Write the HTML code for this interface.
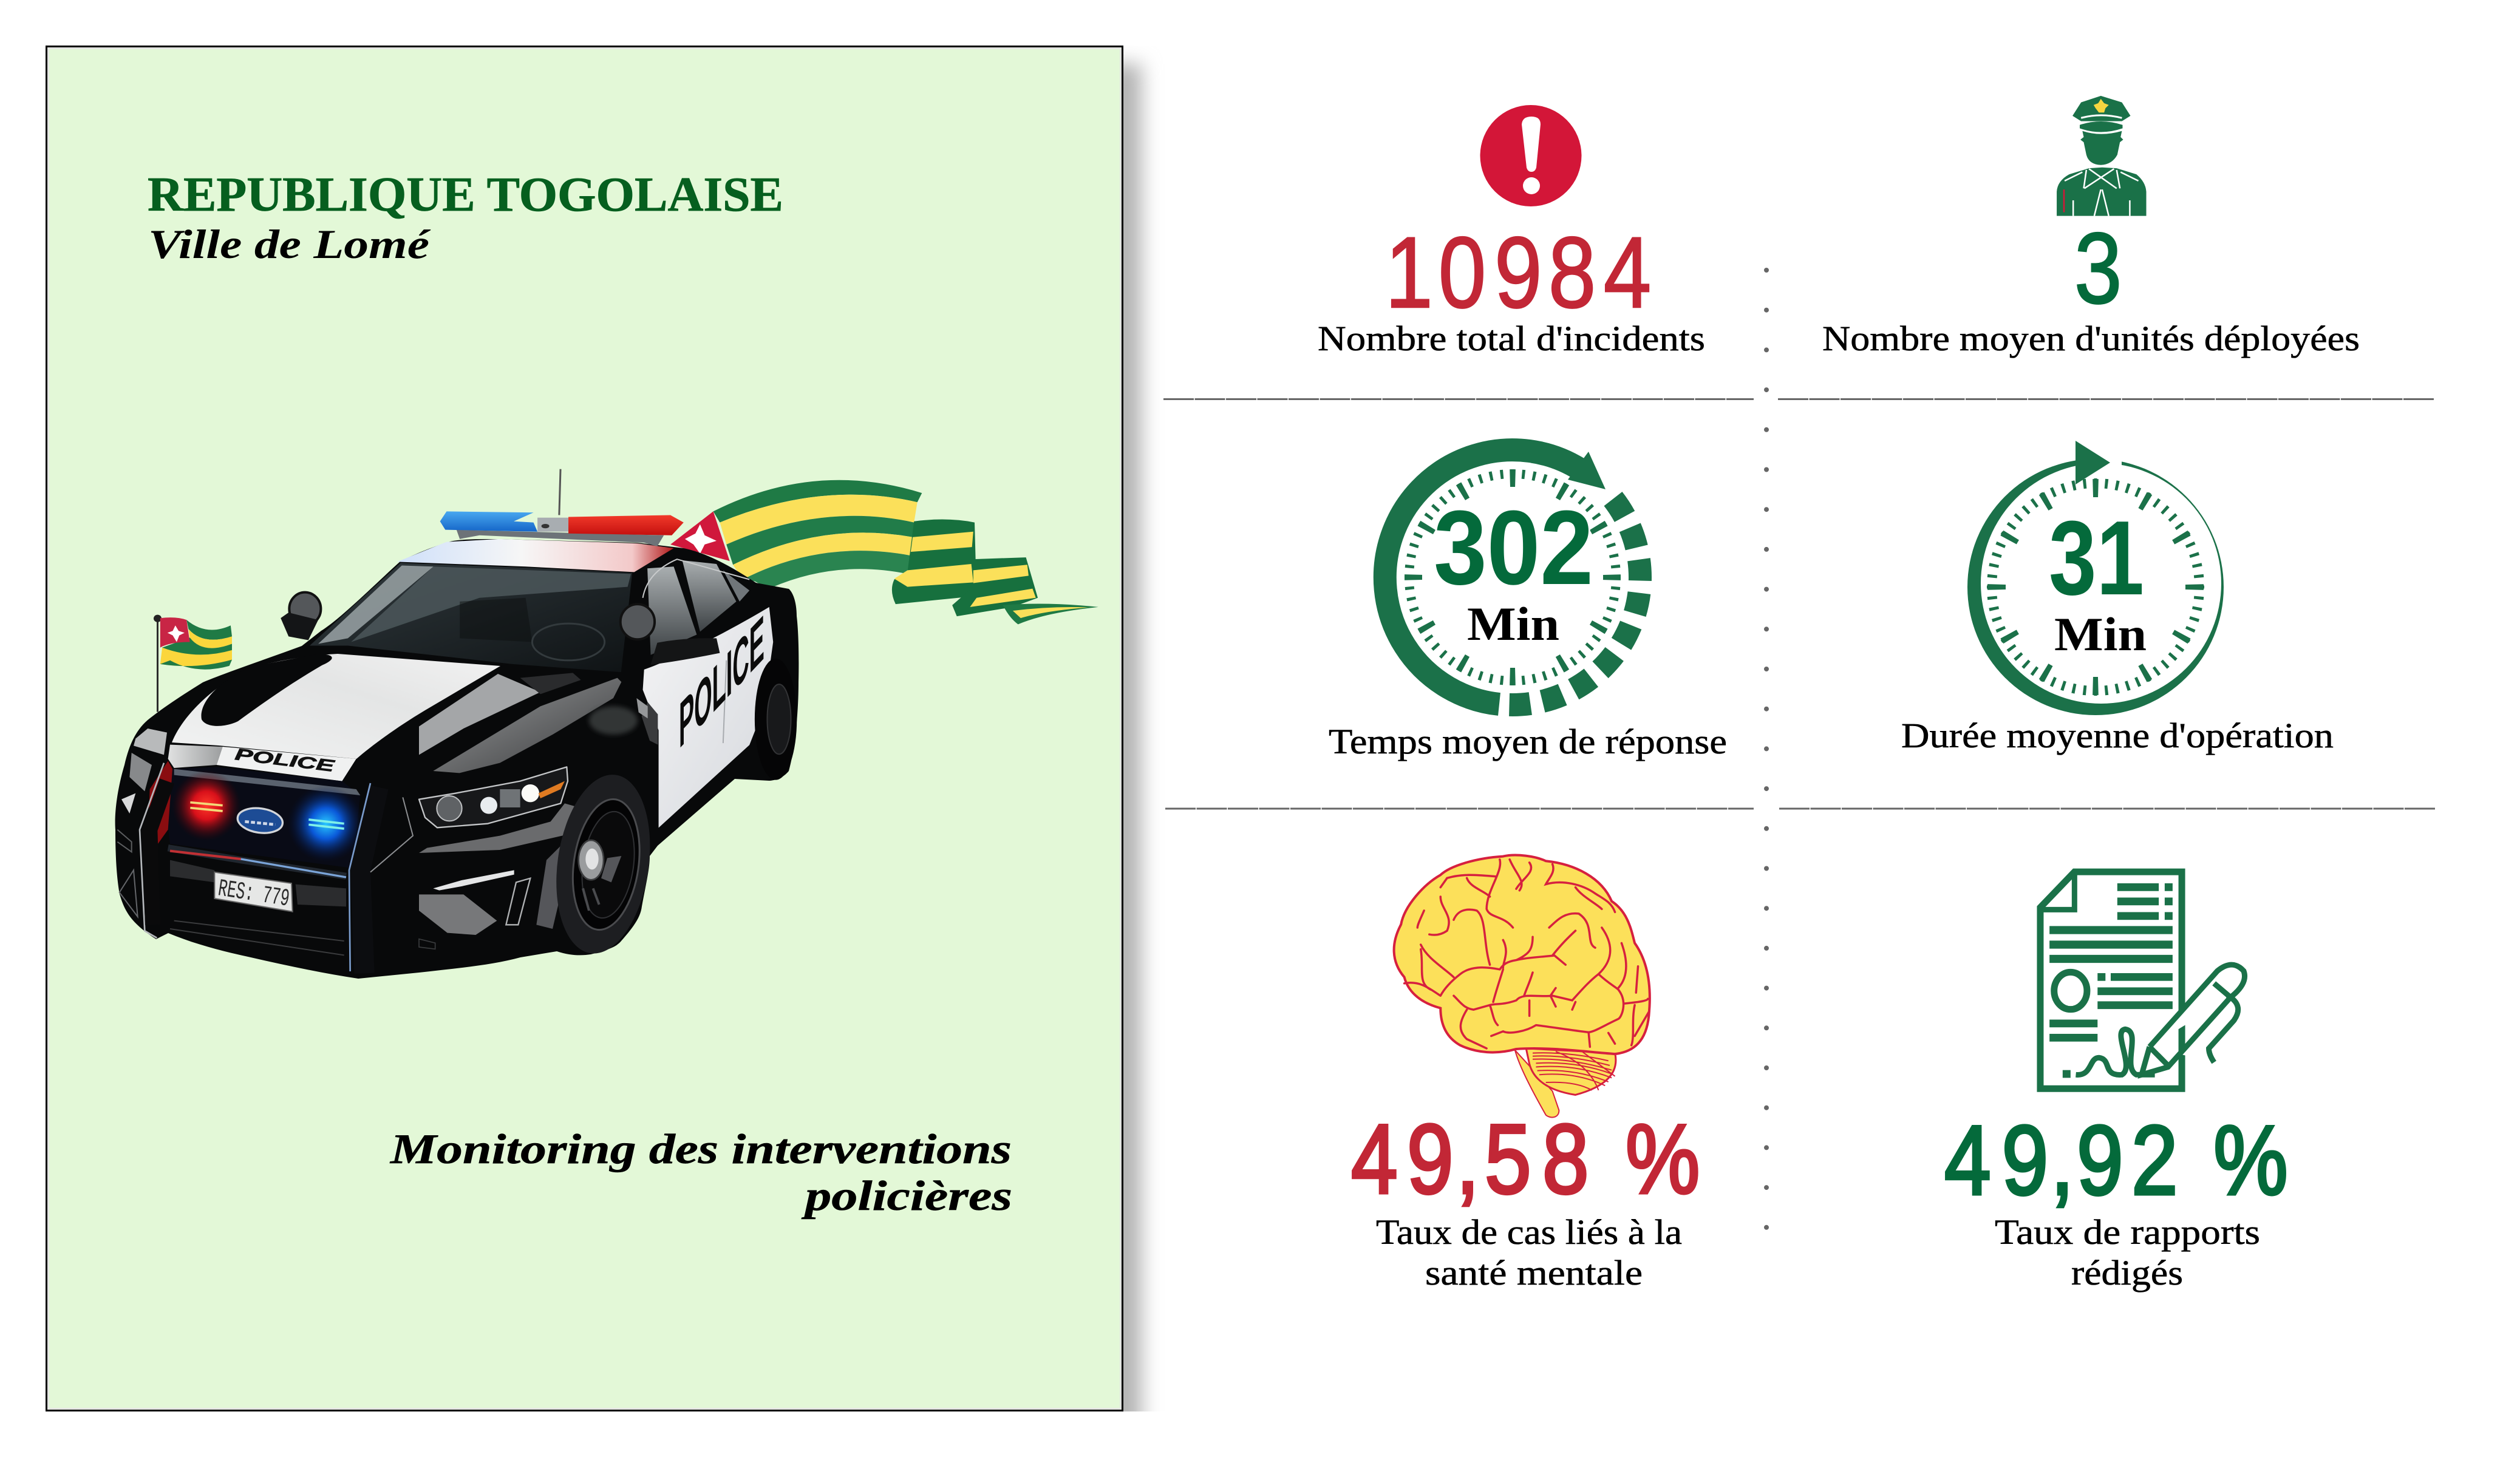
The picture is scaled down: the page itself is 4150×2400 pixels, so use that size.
<!DOCTYPE html>
<html lang="fr">
<head>
<meta charset="utf-8">
<title>Monitoring des interventions policières</title>
<style>
html,body{margin:0;padding:0;background:#fff}
svg{display:block}
.ns *{vector-effect:non-scaling-stroke}
.lab{font-family:"Liberation Serif",serif;font-size:58px;fill:#000;stroke:#000;stroke-width:.6px}
.num{font-family:"Liberation Sans",sans-serif;font-size:166px}
.red{fill:#c22736;stroke:#c22736}
.grn{fill:#046a3b;stroke:#046a3b}
</style>
</head>
<body>
<svg xmlns="http://www.w3.org/2000/svg" width="4150" height="2400" viewBox="0 0 4150 2400">
<defs>
<filter id="shadowBlur" x="-100%" y="-5%" width="300%" height="110%"><feGaussianBlur stdDeviation="16"/></filter>
<filter id="soft" x="-50%" y="-50%" width="200%" height="200%"><feGaussianBlur stdDeviation="12"/></filter>
<clipPath id="shadowClip"><rect x="1850" y="75" width="90" height="2250"/></clipPath>
<radialGradient id="redGlow"><stop offset="0" stop-color="#ff3a2a"/><stop offset=".4" stop-color="#d8101a"/><stop offset="1" stop-color="#3a0508" stop-opacity="0"/></radialGradient>
<radialGradient id="blueGlow"><stop offset="0" stop-color="#28c8ff"/><stop offset=".4" stop-color="#0a58d8"/><stop offset="1" stop-color="#04103a" stop-opacity="0"/></radialGradient>
<linearGradient id="hoodGrad" x1="0" y1="1" x2="1" y2="0"><stop offset="0" stop-color="#f2f3f3"/><stop offset=".6" stop-color="#e4e5e5"/><stop offset="1" stop-color="#f2f2f2"/></linearGradient>
<linearGradient id="lipGrad" x1="0" y1="0" x2="1" y2="0"><stop offset="0" stop-color="#e0e1e1"/><stop offset="1" stop-color="#9c9e9f"/></linearGradient>
<linearGradient id="roofGrad" x1="0" y1="0" x2="1" y2="0"><stop offset="0" stop-color="#cfe0fa"/><stop offset=".45" stop-color="#f6f6f6"/><stop offset=".85" stop-color="#f3c9c9"/><stop offset="1" stop-color="#b01818"/></linearGradient>
<linearGradient id="glassGrad" x1="0" y1="0" x2="1" y2="1"><stop offset="0" stop-color="#30393d"/><stop offset="1" stop-color="#0f1315"/></linearGradient>
<linearGradient id="sideGlass" x1="0" y1="0" x2="0" y2="1"><stop offset="0" stop-color="#a9aeb0"/><stop offset="1" stop-color="#3d4245"/></linearGradient>
<linearGradient id="barBlue" x1="0" y1="0" x2="0" y2="1"><stop offset="0" stop-color="#49a8f0"/><stop offset="1" stop-color="#1566c8"/></linearGradient>
<linearGradient id="barRed" x1="0" y1="0" x2="0" y2="1"><stop offset="0" stop-color="#f23a2a"/><stop offset="1" stop-color="#c4100f"/></linearGradient>
<linearGradient id="fenderGrad" x1="0" y1="0" x2="1" y2="1"><stop offset="0" stop-color="#a2a4a5"/><stop offset="1" stop-color="#3a3b3d"/></linearGradient>
<linearGradient id="doorGrad" x1="0" y1="0" x2="1" y2="1"><stop offset="0" stop-color="#f4f4f5"/><stop offset="1" stop-color="#d5d8dd"/></linearGradient>
</defs>

<rect width="4150" height="2400" fill="#fff"/>

<g>
  <g clip-path="url(#shadowClip)">
    <rect x="1800" y="105" width="80" height="2400" fill="#b4b4b4" filter="url(#shadowBlur)"/>
  </g>
  <rect x="76.500" y="76.500" width="1772" height="2247" fill="#e3f8d7" stroke="#000" stroke-width="3"/>
  <rect x="79.500" y="79.500" width="1766" height="2241" fill="none" stroke="#e4e6e2" stroke-width="3"/>
  <text x="243" y="347" font-family="Liberation Serif,serif" font-weight="bold" font-size="80" fill="#065f1f" stroke="#065f1f" stroke-width=".8" textLength="1047" lengthAdjust="spacingAndGlyphs">REPUBLIQUE TOGOLAISE</text>
  <text x="244" y="425" font-family="Liberation Serif,serif" font-weight="bold" font-style="italic" font-size="68" fill="#000" textLength="463" lengthAdjust="spacingAndGlyphs">Ville de Lomé</text>
  <text x="643" y="1916" font-family="Liberation Serif,serif" font-weight="bold" font-style="italic" font-size="70" fill="#000" stroke="#000" stroke-width=".6" textLength="1023" lengthAdjust="spacingAndGlyphs">Monitoring des interventions</text>
  <text x="1326" y="1993" font-family="Liberation Serif,serif" font-weight="bold" font-style="italic" font-size="70" fill="#000" stroke="#000" stroke-width=".6" textLength="341" lengthAdjust="spacingAndGlyphs">policières</text>
</g>

<!-- Ribbon and small flag -->
<g transform="translate(150,700) scale(1.0842,0.6059)" class="ns">
  <g>
    <path d="M880,325 L945,235 L970,370 Z" fill="#d0183c"/>
    <path d="M902,310 L918,295 L925,270 L932,300 L950,315 L932,325 L925,350 L915,325 Z" fill="#fff"/>
    <path d="M945,235 Q1100,95 1262,185 L1255,210 Q1110,150 955,265 Z" fill="#1f7a45"/>
    <path d="M955,265 Q1110,150 1255,210 L1250,265 Q1110,210 965,325 Z" fill="#fbe05a"/>
    <path d="M965,325 Q1110,210 1250,265 L1248,305 Q1110,260 975,380 Z" fill="#217c49"/>
    <path d="M975,380 Q1110,260 1248,305 L1245,355 Q1110,310 990,420 Z" fill="#fbe05a"/>
    <path d="M990,420 Q1110,310 1245,355 L1240,405 Q1130,365 1030,445 L1008,425 Z" fill="#2a8450"/>
    <path d="M1250,262 Q1300,250 1342,265 L1345,465 L1222,487 Q1212,450 1220,420 L1240,400 Z" fill="#17703e"/>
    <path d="M1248,305 L1340,290 L1338,332 L1245,345 Z" fill="#fbe05a"/>
    <path d="M1240,395 L1337,378 L1340,428 L1240,440 L1220,418 Z" fill="#fbe05a"/>
    <path d="M1340,365 L1420,360 L1438,470 L1400,495 L1315,520 L1308,490 L1340,440 Z" fill="#17703e"/>
    <path d="M1340,395 L1422,380 L1424,410 L1340,430 Z" fill="#fbe05a"/>
    <path d="M1345,470 L1430,445 L1435,470 L1335,495 Z" fill="#fbe05a"/>
    <path d="M1385,490 Q1450,480 1530,495 Q1450,510 1408,542 Q1395,525 1385,490 Z" fill="#1f7a45"/>
    <path d="M1400,505 Q1460,492 1515,496 Q1450,505 1412,525 Z" fill="#fbe05a"/>
  </g>
  <g>
    <line x1="101" y1="525" x2="101" y2="780" stroke="#2c2c2c" stroke-width="3"/>
    <ellipse cx="101" cy="526" rx="6" ry="10" fill="#222"/>
    <path d="M145,530 Q175,575 212,545 L214,575 Q170,600 148,555 Z" fill="#1f7a45"/>
    <path d="M148,555 Q170,600 214,575 L214,595 Q170,625 150,580 Z" fill="#fbd63c"/>
    <path d="M150,578 Q170,625 214,595 L214,615 Q160,640 108,625 L108,605 Z" fill="#1f7a45"/>
    <path d="M108,605 Q160,640 214,612 L214,640 Q160,665 105,650 Z" fill="#fbd63c"/>
    <path d="M105,650 Q160,665 214,638 L210,655 Q160,680 120,640 Z" fill="#1f7a45"/>
    <path d="M105,525 Q130,520 145,530 L150,590 Q120,590 105,605 Z" fill="#c82545"/>
    <path d="M128,545 L133,560 L142,565 L134,572 L130,590 L124,572 L116,565 L124,560 Z" fill="#fff"/>
  </g>
  <line x1="713" y1="120" x2="711" y2="245" stroke="#555" stroke-width="3"/>
</g>

<g>
  <path d="M247,1183 C225,1200 213,1225 205,1260 C193,1300 188,1340 190,1367 C190,1420 193,1450 197,1473 C205,1500 215,1520 257,1547 L277,1537 C320,1555 370,1568 413,1577 C470,1590 530,1603 590,1612 L690,1602 C750,1595 810,1590 857,1577 L917,1567 C940,1575 960,1574 973,1572 C1000,1565 1015,1560 1023,1550 C1045,1525 1055,1510 1057,1493 C1065,1450 1070,1430 1070,1410 L1083,1393 L1210,1283 L1267,1286 C1285,1285 1295,1275 1299,1270 C1310,1230 1315,1170 1315,1124 C1316,1080 1315,1040 1312,1015 C1312,990 1305,975 1299,970 L1245,960 C1200,930 1160,910 1126,903 L1050,894 L822,888 C780,888 750,888 735,894 C700,905 680,915 660,924 C620,960 560,1020 529,1039 L497,1064 C440,1085 380,1105 334,1124 C300,1145 270,1165 247,1183 Z" fill="#08090a"/>

  <g transform="translate(150,700) scale(1.0842,0.6059)" class="ns">
    <path d="M465,372 L540,318 L620,310 L830,322 L885,335 L825,400 L660,385 Z" fill="url(#roofGrad)"/>
    <path d="M470,375 L660,388 L822,402 L805,672 L640,650 L390,600 L332,600 Z" fill="url(#glassGrad)"/>
    <path d="M472,382 L520,385 L390,580 L345,595 Z" fill="#9aa3a6" opacity=".85"/>
    <path d="M520,385 L820,405 L815,440 L590,470 L395,590 Z" fill="#4f5a5e" opacity=".8"/>
    <path d="M560,480 L660,470 L670,590 L560,580 Z" fill="#0b0d0e" opacity=".45"/>
    <ellipse cx="725" cy="590" rx="55" ry="50" fill="none" stroke="#333a3d" stroke-width="3"/>
    <path d="M845,390 L885,385 L920,570 L850,625 Z" fill="url(#sideGlass)"/>
    <path d="M898,368 L950,378 L980,480 L925,562 Z" fill="url(#sideGlass)"/>
    <path d="M960,395 L1000,450 L985,480 Z" fill="#70767a"/>
    <path d="M838,470 Q845,400 890,365 L1000,420" fill="none" stroke="#c8cacb" stroke-width="2"/>
    <path d="M840,665 C880,640 960,570 1030,495 L1036,590 L1022,770 L1000,870 L862,1095 L862,830 L838,720 Z" fill="url(#doorGrad)"/>
    <path d="M960,865 L965,640" fill="none" stroke="#a8abaf" stroke-width="2"/>
    <path d="M860,592 Q900,578 950,580 L955,620 Q900,640 850,652 Z" fill="#141516"/>
    <ellipse cx="325" cy="500" rx="24" ry="45" fill="#54575a" stroke="#111" stroke-width="4"/>
    <path d="M300,510 L288,525 L300,575 L330,585 L345,530 Z" fill="#141517"/>
    <ellipse cx="830" cy="535" rx="26" ry="48" fill="#54575a" stroke="#111" stroke-width="4"/>
    <g>
      <path d="M555,285 L870,300 L860,330 L840,320 L590,300 L560,310 Z" fill="#6d7378"/>
      <path d="M540,235 L672,238 L642,262 L672,265 L678,290 L538,285 L530,262 Z" fill="url(#barBlue)"/>
      <rect x="678" y="252" width="48" height="38" fill="#a8adb1"/>
      <circle cx="690" cy="275" r="6" fill="#333"/>
      <path d="M725,250 L880,245 L900,265 L882,300 L725,295 Z" fill="url(#barRed)"/>
    </g>
    <ellipse cx="1040" cy="800" rx="32" ry="165" fill="#050506"/>
    <ellipse cx="1045" cy="800" rx="18" ry="95" fill="#18191b" stroke="#333436" stroke-width="2"/>
  </g>

  <path d="M283,1223 C300,1180 350,1130 413,1100 C450,1090 500,1080 556,1077 L824,1097 L700,1170 C650,1200 610,1230 587,1250 L360,1228 Z" fill="url(#hoodGrad)"/>
  <path d="M414,1098 C345,1130 328,1165 332,1185 C340,1200 372,1198 392,1188 C430,1160 480,1125 530,1096 C560,1083 545,1076 520,1078 Z" fill="#08090a"/>

  <g transform="translate(180,1100) scale(.33333)">
    <path d="M300,380 L560,390 L530,480 L320,495 L290,450 Z" fill="url(#lipGrad)"/>
    <path d="M560,390 L1220,450 L1150,560 L530,480 Z" fill="#f0f1f1"/>
    <path d="M310,500 L530,490 L1150,560 L1240,630 L1200,990 L300,870 L280,700 Z" fill="#090b16"/>
    <path d="M320,500 L1220,600 L1240,630 L320,530 Z" fill="#7d8794" opacity=".7"/>
    <ellipse cx="480" cy="680" rx="170" ry="175" fill="url(#redGlow)"/>
    <ellipse cx="1070" cy="770" rx="190" ry="190" fill="url(#blueGlow)"/>
    <path d="M400,665 L560,680 M400,692 L560,708" stroke="#f2d878" stroke-width="11"/>
    <path d="M985,750 L1160,770 M985,775 L1160,795" stroke="#7ef0e8" stroke-width="11"/>
    <ellipse cx="745" cy="755" rx="112" ry="60" transform="rotate(8 745 755)" fill="#1d4c95" stroke="#d3d6da" stroke-width="10"/>
    <path d="M670,760 L820,775" stroke="#cfd8e8" stroke-width="14" stroke-dasharray="20 10"/>
    <path d="M290,460 L312,500 L290,800 L240,870 L190,860 L200,600 Z" fill="#8a0d10"/>
    <path d="M290,890 L650,950 L1170,1030" fill="none" stroke="#20262e" stroke-width="34"/>
    <path d="M300,905 L650,945" fill="none" stroke="#c03034" stroke-width="12"/>
    <path d="M650,945 L1170,1035" fill="none" stroke="#7aa4d8" stroke-width="10"/>
    <path d="M300,950 L520,1000 L520,1060 L300,1030 Z" fill="#2b2c2e"/>
    <path d="M920,1070 L1170,1090 L1170,1180 L930,1170 Z" fill="#2b2c2e"/>
    <path d="M300,1290 L1160,1420 M320,1250 L1160,1350" fill="none" stroke="#3a3b3d" stroke-width="6"/>
    <path d="M520,1010 L900,1065 L905,1205 L520,1140 Z" fill="#e6e7e6" stroke="#666" stroke-width="6"/>
    <path d="M130,350 L190,300 L285,320 L270,430 L120,385 Z" fill="#b8babb"/>
    <path d="M110,420 L210,480 L175,610 L100,540 Z" fill="#87898b"/>
    <path d="M60,650 L130,620 L100,720 Z" fill="#d8d9da"/>
    <path d="M50,1110 L120,1000 L140,1230 Z" fill="none" stroke="#64666a" stroke-width="6"/>
    <path d="M40,800 L110,860 L110,910 L40,860" fill="none" stroke="#5c5e60" stroke-width="6"/>
    <path d="M270,470 L150,800 L175,1300 L235,1335" fill="none" stroke="#b5b8bc" stroke-width="8" stroke-linejoin="round"/>
    <path d="M285,560 L200,800 L215,1270" fill="none" stroke="#0a0a0b" stroke-width="76" stroke-linejoin="round"/>
    <path d="M1330,590 L1240,1000 L1260,1510" fill="none" stroke="#0c0d10" stroke-width="100" stroke-linejoin="round"/>
    <path d="M1290,570 L1185,1000 L1190,1500" fill="none" stroke="#7a9ccc" stroke-width="8" stroke-linejoin="round"/>
    <path d="M1450,640 L1500,830 L1290,1010" fill="none" stroke="#8d8f92" stroke-width="6"/>
  </g>

  <g transform="translate(690,1100) scale(.33333)">
    <path d="M0,290 L390,30 L600,120 L220,300 L0,430 Z" fill="#a4a6a8"/>
    <path d="M500,50 L760,25 L800,60 L600,130 Z" fill="#2a2b2d"/>
    <path d="M70,510 L600,190 L980,50 L1000,70 L960,150 L660,330 L400,470 L200,520 Z" fill="url(#fenderGrad)" opacity=".95"/>
    <ellipse cx="960" cy="260" rx="120" ry="70" fill="#333436" filter="url(#soft)"/>
    <path d="M0,650 L180,620 L500,560 L730,490 L735,560 L700,670 L340,770 L90,790 L30,740 Z" fill="#17181a" stroke="#c4c6c8" stroke-width="7" stroke-linejoin="round"/>
    <circle cx="150" cy="695" r="62" fill="#5f6265" stroke="#bfc1c3" stroke-width="6"/>
    <circle cx="345" cy="680" r="42" fill="#e8ecef"/>
    <rect x="400" y="600" width="100" height="90" fill="#6f7376"/>
    <circle cx="550" cy="620" r="44" fill="#fbfbf7"/>
    <path d="M590,620 L720,560 L700,600 L600,645 Z" fill="#e07b22"/>
    <path d="M720,670 L790,690 L750,820 L400,900 L0,915 L40,890 L400,830 L650,760 Z" fill="#6a6b6d"/>
    <path d="M630,950 L720,860 L700,1120 L660,1290 L580,1270 Z" fill="#55565a"/>
    <path d="M0,1120 L220,1120 L385,1250 L280,1320 L140,1310 L0,1200 Z" fill="#77787a"/>
    <path d="M70,1090 L210,1050 L470,1000 L470,1022 L210,1080 L100,1100 Z" fill="#e4e5e6"/>
    <path d="M480,1060 L550,1040 L490,1270 L430,1270 Z" fill="none" stroke="#b0b2b4" stroke-width="7"/>
    <path d="M0,1340 L80,1360 L80,1390 L0,1380 Z" fill="none" stroke="#3a3c3e" stroke-width="5"/>
    <g transform="rotate(8 910 970)">
      <ellipse cx="910" cy="970" rx="225" ry="445" fill="#1d1e21"/>
      <ellipse cx="925" cy="970" rx="160" ry="325" fill="#040405" stroke="#4a4b4e" stroke-width="9"/>
      <ellipse cx="935" cy="970" rx="125" ry="265" fill="#0a0a0b" stroke="#2f3033" stroke-width="6"/>
    </g>
    <path d="M1000,930 L950,1060 L900,1040 L930,940 Z" fill="#55565a"/>
    <path d="M810,1090 L840,1200 M860,1090 L890,1170" stroke="#4a4b4e" stroke-width="12"/>
    <ellipse cx="850" cy="950" rx="62" ry="98" fill="#9a9c9e" stroke="#3d3e40" stroke-width="8"/>
    <ellipse cx="855" cy="945" rx="32" ry="52" fill="#e2e3e4"/>
    <path d="M1130,170 L1180,230 L1180,380 L1140,360 L1100,240 Z" fill="#3a3b3d"/>
    <path d="M1075,150 L1130,190 L1130,250 L1085,220 Z" fill="#96989a"/>
  </g>

  <text transform="translate(386,1251) rotate(7)" font-family="Liberation Sans,sans-serif" font-weight="bold" font-style="italic" font-size="27" fill="#111" stroke="#111" stroke-width=".8" textLength="164" lengthAdjust="spacingAndGlyphs">POLICE</text>
  <text transform="matrix(0.684,-0.73,0,1,1118,1234)" font-family="Liberation Sans,sans-serif" font-weight="bold" font-size="105" fill="#0b0b0b" textLength="206" lengthAdjust="spacingAndGlyphs">POLICE</text>
  <text transform="translate(358,1474) rotate(8.700)" font-family="Liberation Mono,monospace" font-size="40" fill="#2a2a2a" textLength="118" lengthAdjust="spacingAndGlyphs">RES: 779</text>
</g>

<!-- Dividers -->
<g>
  <line x1="2909" y1="445" x2="2909" y2="2022" stroke="#666" stroke-width="8" stroke-linecap="round" stroke-dasharray="0 65.700"/>
  <line x1="1916" y1="657.500" x2="2888" y2="657.500" stroke="#666" stroke-width="3" stroke-dasharray="50 1.500"/>
  <line x1="2928" y1="657.500" x2="4008" y2="657.500" stroke="#666" stroke-width="3" stroke-dasharray="50 1.500"/>
  <line x1="1919" y1="1332" x2="2888" y2="1332" stroke="#666" stroke-width="3" stroke-dasharray="50 1.500"/>
  <line x1="2930" y1="1332" x2="4010" y2="1332" stroke="#666" stroke-width="3" stroke-dasharray="50 1.500"/>
</g>

<!-- KPI 1 -->
<g>
  <g>
    <circle cx="2521" cy="256.500" r="83.500" fill="#d31638"/>
    <path d="M2506,205 Q2507,192 2522,192 Q2537,192 2537,205 L2530,276 Q2528,283 2522,283 Q2516,283 2514,276 Z" fill="#fff"/>
    <circle cx="2522" cy="306" r="14" fill="#fff"/>
  </g>
  <text class="num red" transform="translate(2294,506) scale(.85,1)" x="-15 88 196.500 301 408" y="0" stroke-width="2.500">10984</text>
  <text class="lab" x="2170" y="577" textLength="638" lengthAdjust="spacingAndGlyphs">Nombre total d'incidents</text>
</g>

<!-- KPI 2 -->
<g>
  <g transform="translate(2150,130) scale(1.0842,0.3571)" class="ns">
    <path d="M1208,78 L1240,108 L1253,170 L1240,195 L1178,195 L1165,170 L1178,108 Z" fill="#1a7148"/>
    <path d="M1178,180 Q1208,155 1240,180" fill="none" stroke="#fff" stroke-width="3"/>
    <path d="M1208,92 L1213,112 L1220,120 L1215,135 L1213,155 L1205,155 L1200,135 L1197,120 L1204,112 Z" fill="#f6d640"/>
    <path d="M1176,212 Q1208,180 1241,212 L1241,228 Q1208,262 1176,228 Z" fill="#1a7148"/>
    <path d="M1180,240 Q1208,268 1240,240 L1238,268 L1242,280 L1237,292 L1233,350 Q1225,395 1208,397 Q1190,395 1186,350 L1182,292 L1177,280 L1182,268 Z" fill="#1a7148"/>
    <path d="M1141,632 L1141,520 Q1142,470 1160,440 L1190,412 L1210,408 L1232,412 L1262,440 Q1276,475 1277,520 L1277,632 Z" fill="#1a7148"/>
    <path d="M1190,415 L1232,505 M1228,415 L1183,505 M1186,420 L1182,505 M1232,420 L1237,505 M1208,510 L1198,632 M1210,510 L1220,632 M1166,560 L1166,632 M1252,560 L1252,632 M1153,470 L1180,430 M1265,470 L1238,430" fill="none" stroke="#fff" stroke-width="2.500"/>
    <line x1="1152" y1="510" x2="1152" y2="615" stroke="#d31638" stroke-width="2.500"/>
  </g>
  <text class="num grn" transform="translate(3416,499) scale(.85,1)" stroke-width="2.500">3</text>
  <text class="lab" x="3001" y="577" textLength="885" lengthAdjust="spacingAndGlyphs">Nombre moyen d'unités déployées</text>
</g>

<!-- KPI 3 -->
<g>
  <g>
    <path d="M2602,773 A210,210 0 1 0 2469,1160" fill="none" stroke="#1b7149" stroke-width="38"/>
    <polygon points="2616,744 2644,806 2582,790" fill="#1b7149"/>
    <circle cx="2491" cy="951" r="210" fill="none" stroke="#1b7149" stroke-width="38" pathLength="360" stroke-dasharray="9.500 5.500 9.500 5.500 9.500 5.500 9.500 5.500 9.500 5.500 9.500 5.500 9.500 5.500 9.500 5.500 9.500 231" transform="rotate(-38 2491 951)"/>
    <circle cx="2491" cy="951" r="170.500" fill="none" stroke="#1b7149" stroke-width="15" pathLength="60" stroke-dasharray="0.280 0.720" stroke-dashoffset="0.140"/>
    <circle cx="2491" cy="951" r="163.500" fill="none" stroke="#1b7149" stroke-width="29" pathLength="12" stroke-dasharray="0.105 0.895" stroke-dashoffset="0.052"/>
    <text x="2361" y="962" font-family="Liberation Sans,sans-serif" font-weight="bold" font-size="174" fill="#046a3b" stroke="#fff" stroke-width="6" paint-order="stroke" textLength="263" lengthAdjust="spacingAndGlyphs">302</text>
    <text x="2416" y="1054" font-family="Liberation Serif,serif" font-weight="bold" font-size="78" fill="#000" textLength="152" lengthAdjust="spacingAndGlyphs">Min</text>
  </g>
  <text class="lab" x="2188" y="1241" textLength="656" lengthAdjust="spacingAndGlyphs">Temps moyen de réponse</text>
</g>

<!-- KPI 4 -->
<g>
  <g>
    <path fill-rule="evenodd" d="M3240,967 A211,211 0 1 1 3662,967 A211,211 0 1 1 3240,967 Z M3262,961 A198,198 0 1 0 3658,961 A198,198 0 1 0 3262,961 Z" fill="#1b7149"/>
    <rect x="3418" y="745" width="76" height="36" fill="#fff"/>
    <polygon points="3418,726 3475,762 3418,798" fill="#1b7149"/>
    <circle cx="3451" cy="967" r="171" fill="none" stroke="#1b7149" stroke-width="16" pathLength="60" stroke-dasharray="0.280 0.720" stroke-dashoffset="0.140"/>
    <circle cx="3451" cy="967" r="163" fill="none" stroke="#1b7149" stroke-width="30" pathLength="12" stroke-dasharray="0.105 0.895" stroke-dashoffset="0.052"/>
    <text x="3374" y="979" font-family="Liberation Sans,sans-serif" font-weight="bold" font-size="174" fill="#046a3b" textLength="157" lengthAdjust="spacingAndGlyphs">31</text>
    <text x="3383" y="1071" font-family="Liberation Serif,serif" font-weight="bold" font-size="78" fill="#000" textLength="152" lengthAdjust="spacingAndGlyphs">Min</text>
  </g>
  <text class="lab" x="3131" y="1231" textLength="712" lengthAdjust="spacingAndGlyphs">Durée moyenne d'opération</text>
</g>

<!-- KPI 5 -->
<g>
  <g transform="translate(2150,1380) scale(1.0842,0.5102)" class="ns">
    <path d="M318,685 C325,740 345,820 365,895 C372,908 385,905 385,880 L375,818 L320,690 Z" fill="#fce05a" stroke="#d6203f" stroke-width="2"/>
    <path d="M335,680 L470,695 Q480,790 410,830 Q350,810 340,730 Z" fill="#fce05a" stroke="#d6203f" stroke-width="3"/>
    <path d="M345,695 Q400,690 460,720 M345,715 Q400,710 465,750 M350,740 Q410,730 465,775 M355,765 Q410,755 455,800 M365,790 Q410,785 435,815 M420,690 L470,770 M380,690 Q430,730 445,815 M345,705 Q400,700 462,735 M350,728 Q410,720 465,762 M352,752 Q410,745 460,788" fill="none" stroke="#d6203f" stroke-width="2"/>
    <path d="M300,60 C320,50 350,60 365,75 C410,85 450,130 465,205 C490,240 495,300 500,340 C520,400 525,480 522,560 C520,640 505,690 470,698 C420,690 370,675 320,682 C290,700 260,695 235,670 C210,640 205,590 205,550 C170,530 155,490 150,450 C130,400 130,340 145,280 C150,220 180,150 205,120 C220,90 260,65 300,60 Z" fill="#fce05a" stroke="#d6203f" stroke-width="4"/>
    <path d="M295,70 C300,110 275,170 275,230 C280,260 300,250 315,290 M205,160 L215,130 C240,115 260,120 290,125 M245,130 C250,160 270,170 280,190 M310,70 C320,120 335,140 325,170 M340,80 C350,110 330,130 320,165 M375,85 C380,110 370,130 365,150 C390,135 420,150 440,180 C455,200 465,210 470,240 M410,160 C420,190 440,210 450,230 M205,190 C205,230 225,250 215,300 C205,315 195,315 188,312 M180,235 C175,260 170,280 170,290 M225,265 C230,240 240,225 260,235 C275,260 270,340 280,410 M300,330 C310,370 300,400 300,420 M345,320 C345,360 340,375 320,395 C305,400 300,410 295,425 C270,415 250,415 235,440 C220,465 210,490 205,510 M175,345 C185,390 210,420 225,450 M175,360 C180,420 170,470 190,490 M150,470 C175,460 190,490 205,510 M320,395 C340,385 360,385 378,380 L395,410 M375,380 C390,340 400,320 410,300 M370,290 C385,260 395,240 415,245 C440,280 425,340 440,355 M450,290 C470,350 465,400 445,440 C430,465 420,490 405,525 L375,510 C350,515 330,500 320,525 C300,540 290,535 280,540 L255,555 C240,550 235,530 225,510 M300,425 C295,460 290,490 285,530 M345,435 C340,470 335,490 332,510 M380,485 L372,510 L380,545 M410,530 L405,555 M445,440 C460,470 470,480 475,490 C490,530 480,580 475,585 C450,610 440,625 430,628 C400,620 370,610 350,605 C335,625 310,635 300,625 L282,640 M245,555 C235,590 230,620 245,650 L275,680 M280,540 C285,570 285,590 292,605 M340,525 L340,575 M430,630 L432,675 M460,630 L470,665 M500,640 L522,560 M485,535 C510,530 520,525 520,520 M500,540 C495,590 500,640 495,670 M480,340 C490,400 490,450 475,485 M505,415 L502,500" fill="none" stroke="#d6203f" stroke-width="3.500" stroke-linecap="round"/>
  </g>
  <text class="num red" transform="translate(2228,1965) scale(.85,1)" x="-3.500 104.700 200 255.300 367 470.600 528.200" y="0" stroke-width="5" style="font-size:162px">49,58 %</text>
  <text class="lab" x="2266" y="2049" textLength="504" lengthAdjust="spacingAndGlyphs">Taux de cas liés à la</text>
  <text class="lab" x="2347" y="2116" textLength="358" lengthAdjust="spacingAndGlyphs">santé mentale</text>
</g>

<!-- KPI 6 -->
<g>
  <g transform="translate(2150,1380) scale(1.0842,0.5102)" class="ns">
    <path d="M1168,110 L1331,110 L1331,810 L1116,810 L1116,225 Z" fill="none" stroke="#1a7148" stroke-width="11"/>
    <path d="M1168,110 L1168,232 L1116,232" fill="none" stroke="#1a7148" stroke-width="9"/>
    <g fill="#1a7148">
      <rect x="1233" y="147" width="63" height="25"/><rect x="1305" y="147" width="12" height="25"/>
      <rect x="1233" y="193" width="63" height="25"/><rect x="1305" y="193" width="12" height="25"/>
      <rect x="1233" y="240" width="63" height="25"/><rect x="1305" y="240" width="12" height="25"/>
      <rect x="1130" y="285" width="187" height="26"/><rect x="1130" y="332" width="187" height="26"/><rect x="1130" y="378" width="187" height="26"/>
      <rect x="1203" y="437" width="12" height="25"/><rect x="1223" y="437" width="94" height="25"/>
      <rect x="1203" y="483" width="114" height="25"/><rect x="1203" y="528" width="114" height="25"/>
      <rect x="1130" y="587" width="73" height="25"/><rect x="1130" y="633" width="73" height="25"/>
      <rect x="1150" y="750" width="12" height="25"/>
    </g>
    <ellipse cx="1162" cy="494" rx="25" ry="60" fill="none" stroke="#1a7148" stroke-width="11"/>
    <path d="M1170,765 C1195,770 1190,710 1205,710 C1225,715 1210,770 1240,765 C1260,740 1225,625 1245,618 C1270,625 1240,740 1262,765 L1290,765" fill="none" stroke="#1a7148" stroke-width="9"/>
    <path d="M1282,675 L1385,430 Q1408,390 1425,430 Q1432,470 1405,515 Q1425,545 1410,590 L1372,680 Q1372,700 1380,725 M1282,675 L1270,765 L1310,740 L1405,515 M1380,470 L1405,515 M1282,675 L1310,735" fill="#fff" stroke="#1a7148" stroke-width="9"/>
  </g>
  <text class="num grn" transform="translate(3205,1967) scale(.85,1)" x="-3.500 107.800 202.400 253 358.800 470 518" y="0" stroke-width="5" style="font-size:162px">49,92 %</text>
  <text class="lab" x="3285" y="2049" textLength="437" lengthAdjust="spacingAndGlyphs">Taux de rapports</text>
  <text class="lab" x="3411" y="2116" textLength="184" lengthAdjust="spacingAndGlyphs">rédigés</text>
</g>
</svg>
</body>
</html>
